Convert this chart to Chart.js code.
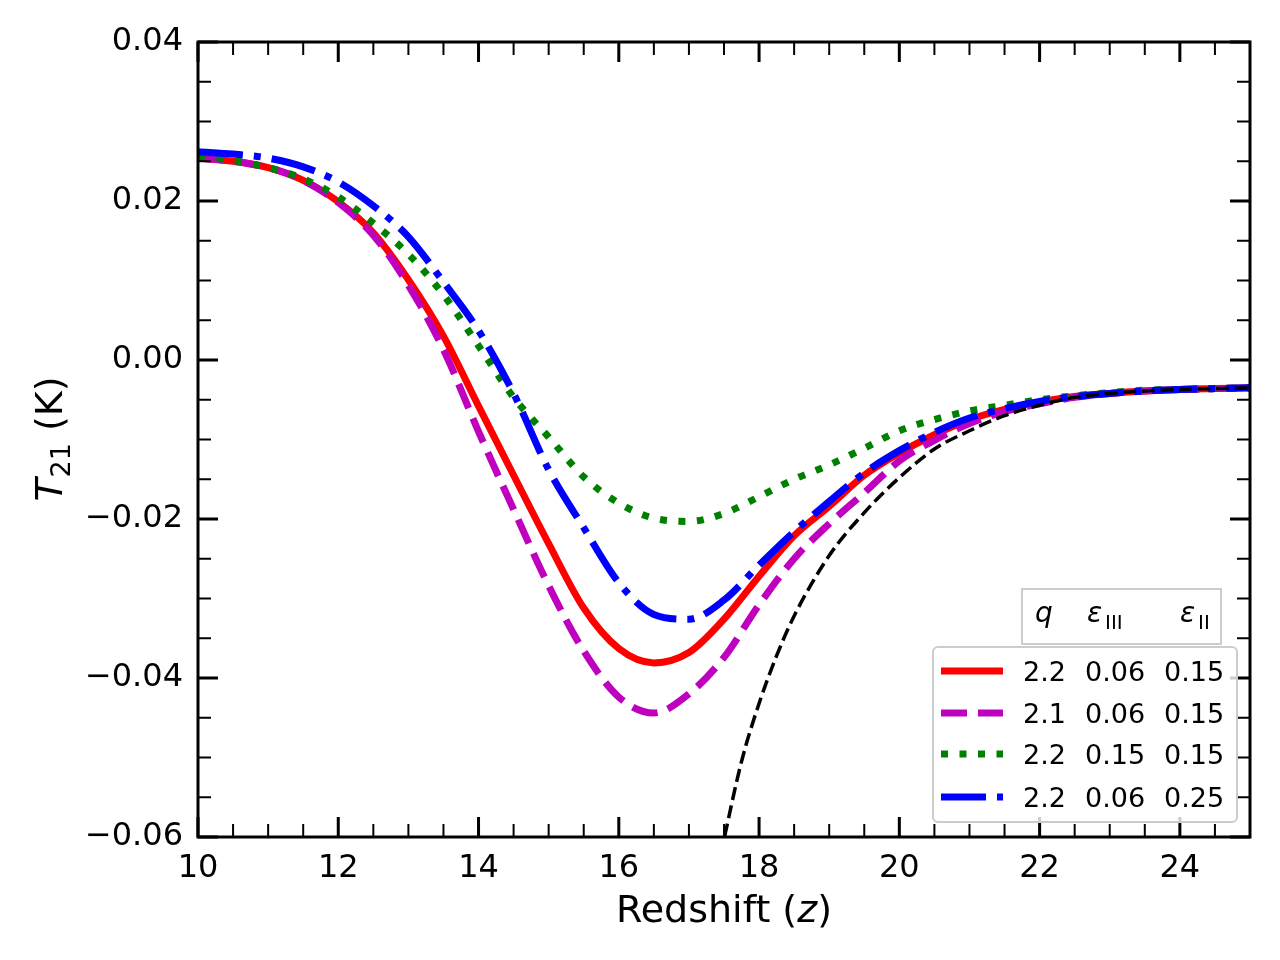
<!DOCTYPE html>
<html>
<head>
<meta charset="utf-8">
<title>T21 vs Redshift</title>
<script src="https://cdn.jsdelivr.net/npm/chart.js@4.4.1/dist/chart.umd.min.js"></script>
<style>
    html, body { margin: 0; padding: 0; background: #fff; }
    #wrap { width: 1280px; height: 960px; }
</style>
</head>
<body>
<div id="wrap"><canvas id="t21Chart" width="1280" height="960"></canvas></div>
<script>
// Redshift grid for the four model curves
const zVals = [10, 10.5, 11, 11.5, 12, 12.5, 13, 13.5, 14, 14.5, 15, 15.5, 16, 16.5, 17, 17.5,
    18, 18.5, 19, 19.5, 20, 20.5, 21, 21.5, 22, 22.5, 23, 23.5, 24, 24.5, 25];

// T21 (K)
const t21Red = [0.0254, 0.0250, 0.0242, 0.0226, 0.0199, 0.0160, 0.0101, 0.0030, -0.0058, -0.0145,
    -0.0231, -0.0312, -0.0363, -0.0381, -0.0368, -0.0326, -0.0272, -0.0221, -0.0184, -0.0145,
    -0.0117, -0.0094, -0.0075, -0.0062, -0.0053, -0.0046, -0.0042, -0.0039, -0.0037, -0.0036, -0.0035];
const t21Magenta = [0.0254, 0.0250, 0.0242, 0.0226, 0.0198, 0.0157, 0.0094, 0.0013, -0.0090, -0.0188,
    -0.0284, -0.0366, -0.0424, -0.0444, -0.0420, -0.0374, -0.0308, -0.0250, -0.0206, -0.0167,
    -0.0127, -0.0101, -0.0080, -0.0065, -0.0055, -0.0047, -0.0042, -0.0039, -0.0037, -0.0036, -0.0035];
const t21Green = [0.0256, 0.0251, 0.0242, 0.0228, 0.0205, 0.0172, 0.0133, 0.0082, 0.0018, -0.0047,
    -0.0097, -0.0147, -0.0180, -0.0199, -0.0203, -0.0193, -0.0172, -0.0150, -0.0132, -0.0111,
    -0.0089, -0.0075, -0.0064, -0.0057, -0.0050, -0.0045, -0.0041, -0.0038, -0.0037, -0.0036, -0.0035];
const t21Blue = [0.0262, 0.0259, 0.0254, 0.0243, 0.0224, 0.0194, 0.0155, 0.0098, 0.0037, -0.0042,
    -0.0138, -0.0211, -0.0280, -0.0320, -0.0326, -0.0302, -0.0258, -0.0216, -0.0178, -0.0142,
    -0.0114, -0.0091, -0.0073, -0.0061, -0.0052, -0.0046, -0.0042, -0.0039, -0.0037, -0.0036, -0.0035];

// Black dashed reference curve (only visible above z ~ 17.5)
const zBlack = [17.4, 17.5, 17.75, 18, 18.25, 18.5, 19, 19.5, 20, 20.5, 21, 21.5, 22, 22.5, 23, 23.5, 24, 24.5, 25];
const t21Black = [-0.0645, -0.0603, -0.0505, -0.0432, -0.0372, -0.0322, -0.0246, -0.0192, -0.0148,
    -0.0112, -0.0089, -0.0070, -0.0057, -0.0047, -0.0042, -0.0039, -0.0037, -0.0036, -0.0035];

// Tick labels
const xTicks = [10, 12, 14, 16, 18, 20, 22, 24];
const yTicks = [-0.06, -0.04, -0.02, 0, 0.02, 0.04];

// Legend table
const legendQ = ['2.2', '2.1', '2.2', '2.2'];
const legendEps3 = ['0.06', '0.06', '0.15', '0.06'];
const legendEps2 = ['0.15', '0.15', '0.15', '0.25'];

const FONT = '"DejaVu Sans", sans-serif';

function pts(xs, ys) {
    return xs.map(function (x, i) { return { x: x, y: ys[i] }; });
}

function fmtY(v) {
    const s = Math.abs(v) < 1e-9 ? '0.00' : v.toFixed(2);
    return s.replace('-', '\u2212');
}

// Khung + vạch chia hướng vào trong trên cả 4 cạnh
const frameTicks = {
    id: 'frameTicks',
    afterDatasetsDraw(chart) {
        const ctx = chart.ctx;
        const a = chart.chartArea;
        const xs = chart.scales.x, ys = chart.scales.y;
        ctx.save();
        ctx.strokeStyle = '#000';

        function tickX(v, len, w) {
            const px = xs.getPixelForValue(v);
            ctx.lineWidth = w;
            ctx.beginPath();
            ctx.moveTo(px, a.bottom); ctx.lineTo(px, a.bottom - len);
            ctx.moveTo(px, a.top); ctx.lineTo(px, a.top + len);
            ctx.stroke();
        }
        function tickY(v, len, w) {
            const py = ys.getPixelForValue(v);
            ctx.lineWidth = w;
            ctx.beginPath();
            ctx.moveTo(a.left, py); ctx.lineTo(a.left + len, py);
            ctx.moveTo(a.right, py); ctx.lineTo(a.right - len, py);
            ctx.stroke();
        }
        for (let i = 0; i <= 30; i++) {
            const v = 10 + i * 0.5;
            if (i % 4 === 0) tickX(v, 20, 3); else tickX(v, 13, 2);
        }
        for (let i = 0; i <= 20; i++) {
            const v = -0.06 + i * 0.005;
            if (i % 4 === 0) tickY(v, 20, 3); else tickY(v, 13, 2);
        }
        ctx.lineWidth = 3;
        ctx.strokeRect(a.left, a.top, a.right - a.left, a.bottom - a.top);
        ctx.restore();
    }
};

// Tiêu đề trục (có chữ nghiêng và chỉ số dưới)
const axisTitles = {
    id: 'axisTitles',
    afterDraw(chart) {
        const ctx = chart.ctx;
        const a = chart.chartArea;
        ctx.save();
        ctx.fillStyle = '#000';
        ctx.textBaseline = 'alphabetic';
        ctx.textAlign = 'left';

        // x: Redshift (z)
        const n = '38px ' + FONT, it = 'italic 38px ' + FONT;
        ctx.font = n; const w1 = ctx.measureText('Redshift (').width;
        ctx.font = it; const w2 = ctx.measureText('z').width;
        ctx.font = n; const w3 = ctx.measureText(')').width;
        let x = (a.left + a.right) / 2 - (w1 + w2 + w3) / 2;
        ctx.font = n; ctx.fillText('Redshift (', x, 922); x += w1;
        ctx.font = it; ctx.fillText('z', x, 922); x += w2;
        ctx.font = n; ctx.fillText(')', x, 922);

        // y: T21 (K)
        ctx.translate(62, (a.top + a.bottom) / 2);
        ctx.rotate(-Math.PI / 2);
        const sub = '27px ' + FONT;
        ctx.font = it; const t1 = ctx.measureText('T').width;
        ctx.font = sub; const t2 = ctx.measureText('21').width;
        ctx.font = n; const t3 = ctx.measureText(' (K)').width;
        let y = -(t1 + t2 + t3) / 2;
        ctx.font = it; ctx.fillText('T', y, 0); y += t1 + 1;
        ctx.font = sub; ctx.fillText('21', y, 8); y += t2;
        ctx.font = n; ctx.fillText(' (K)', y, 0);
        ctx.restore();
    }
};

// Chú thích dạng bảng q, eps_III, eps_II
const tableLegend = {
    id: 'tableLegend',
    afterDraw(chart) {
        const ctx = chart.ctx;
        ctx.save();
        ctx.fillStyle = 'rgba(255,255,255,0.8)';
        ctx.strokeStyle = '#cccccc';
        ctx.lineWidth = 2;

        // header box
        ctx.beginPath();
        ctx.rect(1022, 589, 199, 55);
        ctx.fill(); ctx.stroke();

        // main box
        ctx.beginPath();
        ctx.roundRect(933, 647, 304, 175, 5);
        ctx.fillStyle = 'rgba(255,255,255,0.8)';
        ctx.fill(); ctx.stroke();

        ctx.fillStyle = '#000';
        ctx.textAlign = 'left';
        ctx.textBaseline = 'alphabetic';
        const it = 'italic 28px ' + FONT, sm = '20px ' + FONT;
        ctx.font = it; ctx.fillText('q', 1035, 622);
        ctx.font = it; ctx.fillText('\u03b5', 1087, 622);
        ctx.font = sm; ctx.fillText('III', 1105, 629);
        ctx.font = it; ctx.fillText('\u03b5', 1180, 622);
        ctx.font = sm; ctx.fillText('II', 1198, 629);

        const rows = [671, 713, 754, 797];
        const sets = chart.data.datasets.filter(function (d) { return d.legendRow !== undefined; });
        sets.forEach(function (d) {
            const ry = rows[d.legendRow];
            ctx.strokeStyle = d.borderColor;
            ctx.lineWidth = d.borderWidth;
            ctx.lineCap = 'butt';
            ctx.setLineDash(d.borderDash || []);
            ctx.beginPath();
            ctx.moveTo(941, ry); ctx.lineTo(1003, ry);
            ctx.stroke();
            ctx.setLineDash([]);
            ctx.font = '27px ' + FONT;
            ctx.fillText(legendQ[d.legendRow], 1023, ry + 10);
            ctx.fillText(legendEps3[d.legendRow], 1085, ry + 10);
            ctx.fillText(legendEps2[d.legendRow], 1164, ry + 10);
        });
        ctx.restore();
    }
};

function lineSet(data, color, width, dash, order, row) {
    return {
        data: data,
        borderColor: color,
        borderWidth: width,
        borderDash: dash,
        borderCapStyle: 'butt',
        borderJoinStyle: 'round',
        pointRadius: 0,
        fill: false,
        cubicInterpolationMode: 'monotone',
        clip: 0,
        order: order,
        legendRow: row
    };
}

document.addEventListener('DOMContentLoaded', function () {
    const ctx = document.getElementById('t21Chart');
    new Chart(ctx, {
        type: 'line',
        data: {
            datasets: [
                lineSet(pts(zVals, t21Red), '#ff0000', 7, [], 4, 0),
                lineSet(pts(zVals, t21Magenta), '#bf00bf', 7, [26, 11], 3, 1),
                lineSet(pts(zVals, t21Green), '#008000', 7, [7, 11.5], 2, 2),
                lineSet(pts(zVals, t21Blue), '#0000ff', 7, [45, 11, 7, 11], 1, 3),
                lineSet(pts(zBlack, t21Black), '#000000', 3.5, [13, 5.6], 0, undefined)
            ]
        },
        options: {
            responsive: false,
            animation: false,
            layout: { padding: { left: 0, top: 42, right: 30, bottom: 0 } },
            plugins: {
                legend: { display: false },
                tooltip: { enabled: false }
            },
            scales: {
                x: {
                    type: 'linear',
                    min: 10,
                    max: 25,
                    grid: { display: false },
                    border: { display: false },
                    afterBuildTicks: function (s) { s.ticks = xTicks.map(function (v) { return { value: v }; }); },
                    afterFit: function (s) { s.height = 960 - 837; },
                    ticks: {
                        padding: 4,
                        color: '#000',
                        maxRotation: 0,
                        autoSkip: false,
                        font: { family: FONT, size: 32 },
                        callback: function (v) { return String(v); }
                    }
                },
                y: {
                    type: 'linear',
                    min: -0.06,
                    max: 0.04,
                    grid: { display: false },
                    border: { display: false },
                    afterBuildTicks: function (s) { s.ticks = yTicks.map(function (v) { return { value: v }; }); },
                    afterFit: function (s) { s.width = 198; },
                    ticks: {
                        padding: 7,
                        color: '#000',
                        autoSkip: false,
                        font: { family: FONT, size: 32 },
                        callback: fmtY
                    }
                }
            }
        },
        plugins: [frameTicks, axisTitles, tableLegend]
    });
});
</script>
</body>
</html>
